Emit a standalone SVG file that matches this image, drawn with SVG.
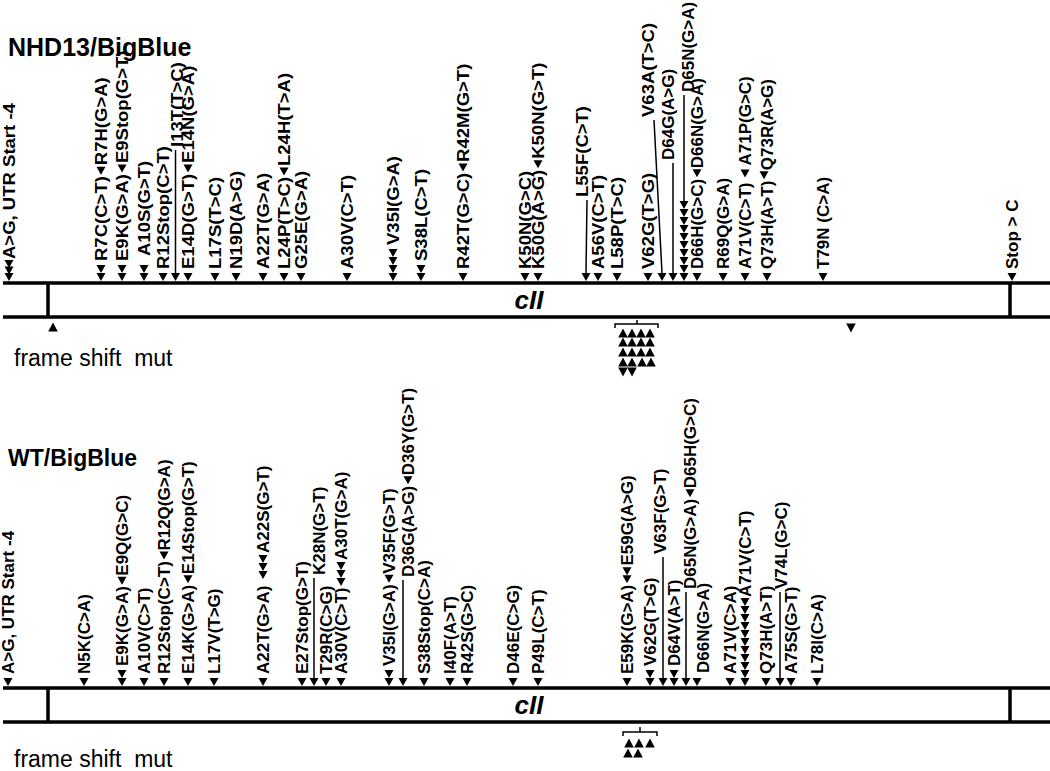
<svg xmlns="http://www.w3.org/2000/svg" width="1050" height="771" viewBox="0 0 1050 771">
<style>
.l,.L{font-family:"Liberation Sans",Arial,sans-serif;font-weight:bold;font-size:17px;fill:#000}
.h{font-family:"Liberation Sans",Arial,sans-serif;font-weight:bold;fill:#000}
.f{font-family:"Liberation Sans",Arial,sans-serif;font-size:23px;fill:#000}
.c{font-family:"Liberation Sans",Arial,sans-serif;font-weight:bold;font-style:italic;font-size:26px;text-anchor:middle;fill:#000}
.gl{stroke:#000;stroke-width:3.5;fill:none}
.ld{stroke:#000;stroke-width:1.5;fill:none}
</style>
<defs>
<path id="d" d="M-4.5,-8H4.5L0,0Z"/>
<path id="u" d="M0,-4.5L4.8,4.5H-4.8Z"/>
<path id="v" d="M-4.8,-4.5H4.8L0,4.5Z"/>
</defs>
<rect width="1050" height="771" fill="#fff"/>
<text class="h" x="8" y="56" font-size="25">NHD13/BigBlue</text>
<text class="h" x="8" y="466" font-size="23">WT/BigBlue</text>
<g id="gene-top">
<path class="gl" d="M3,283H1050M3,317H1050M48,283V317M1010,283V317"/>
<text class="c" x="529" y="309">cII</text>
</g>
<g id="gene-bottom">
<path class="gl" d="M3,688H1050M3,722H1050M48,688V722M1010,688V722"/>
<text class="c" x="529" y="714">cII</text>
</g>
<g id="frameshift-top">
<text class="f" x="14" y="366" xml:space="preserve">frame shift  mut</text>
<use href="#u" x="53" y="327"/><use href="#v" x="851" y="328"/>
<path class="ld" d="M615,328V324H658V328M637,324V320"/>
<use href="#u" x="623" y="333"/><use href="#u" x="632" y="333"/><use href="#u" x="641" y="333"/><use href="#u" x="650" y="333"/>
<use href="#u" x="623" y="342"/><use href="#u" x="632" y="342"/><use href="#u" x="641" y="342"/><use href="#u" x="650" y="342"/>
<use href="#u" x="623" y="352"/><use href="#u" x="632" y="352"/><use href="#u" x="641" y="352"/><use href="#u" x="650" y="352"/>
<use href="#u" x="623" y="362"/><use href="#u" x="632" y="362"/><use href="#u" x="642" y="362"/><use href="#u" x="651" y="362"/>
<use href="#v" x="623" y="372"/><use href="#v" x="632" y="372"/>
</g>
<g id="frameshift-bottom">
<text class="f" x="14" y="767" xml:space="preserve">frame shift  mut</text>
<path class="ld" d="M623,736V732H657V736M640,732V727"/>
<use href="#u" x="629" y="743"/><use href="#u" x="639" y="743"/><use href="#u" x="650" y="743"/>
<use href="#u" x="628" y="753"/><use href="#u" x="638" y="753"/>
</g>
<g id="connectors">
<path class="ld" d="M175.5,273V150M586,273L587,200M662,273L654,120M673,273V163M684,201V95M314,678V578M403,678V580M663,678V557M686,678V592M780,678V592"/>
</g>
<g id="top-labels">
<g id="t1"><use href="#d" x="9" y="281"/><use href="#d" x="9" y="274.5"/><use href="#d" x="9" y="268"/><text class="L" transform="translate(15,259) rotate(-90) scale(1.09,1)">A&gt;G, UTR Start -4</text></g>
<g id="t2"><use href="#d" x="101" y="281"/><use href="#d" x="101" y="273"/><text class="L" transform="translate(107,261) rotate(-90) scale(1.09,1)">R7C(C&gt;T)</text><use href="#d" x="101" y="174.7"/><text class="L" transform="translate(107,165.2) rotate(-90) scale(1.09,1)">R7H(G&gt;A)</text></g>
<g id="t3"><use href="#d" x="122" y="281"/><use href="#d" x="122" y="273"/><text class="L" transform="translate(128,261) rotate(-90) scale(1.09,1)">E9K(G&gt;A)</text><use href="#d" x="122" y="172.6"/><text class="L" transform="translate(128,163.1) rotate(-90) scale(1.09,1)">E9Stop(G&gt;T)</text></g>
<g id="t4"><use href="#d" x="144" y="281"/><use href="#d" x="144" y="273"/><text class="L" transform="translate(150,256) rotate(-90) scale(1.09,1)">A10S(G&gt;T)</text></g>
<g id="t5"><use href="#d" x="163" y="281"/><text class="L" transform="translate(169,269) rotate(-90) scale(1.09,1)">R12Stop(C&gt;T)</text></g>
<g id="t6"><use href="#d" x="175.5" y="281"/><text class="L" transform="translate(182.5,147) rotate(-90) scale(1.09,1)">I13T(T&gt;C)</text></g>
<g id="t7"><use href="#d" x="188" y="281"/><text class="L" transform="translate(194,269) rotate(-90) scale(1.09,1)">E14D(G&gt;T)</text><use href="#d" x="188" y="172.4"/><text class="L" transform="translate(194,162.9) rotate(-90) scale(1.09,1)">E14N(G&gt;A)</text></g>
<g id="t8"><use href="#d" x="215" y="281"/><text class="L" transform="translate(221,269) rotate(-90) scale(1.09,1)">L17S(T&gt;C)</text></g>
<g id="t9"><use href="#d" x="236" y="281"/><text class="L" transform="translate(242,269) rotate(-90) scale(1.09,1)">N19D(A&gt;G)</text></g>
<g id="t10"><use href="#d" x="263" y="281"/><text class="L" transform="translate(269,269) rotate(-90) scale(1.09,1)">A22T(G&gt;A)</text></g>
<g id="t11"><use href="#d" x="284" y="281"/><text class="L" transform="translate(290,269) rotate(-90) scale(1.09,1)">L24P(T&gt;C)</text><use href="#d" x="284" y="175.5"/><text class="L" transform="translate(290,166) rotate(-90) scale(1.09,1)">L24H(T&gt;A)</text></g>
<g id="t12"><use href="#d" x="301" y="281"/><text class="L" transform="translate(307,269) rotate(-90) scale(1.09,1)">G25E(G&gt;A)</text></g>
<g id="t13"><use href="#d" x="347" y="281"/><text class="L" transform="translate(353,269) rotate(-90) scale(1.09,1)">A30V(C&gt;T)</text></g>
<g id="t14"><use href="#d" x="393" y="281"/><use href="#d" x="393" y="273"/><use href="#d" x="393" y="265"/><use href="#d" x="393" y="257"/><text class="L" transform="translate(399,245) rotate(-90) scale(1.09,1)">V35I(G&gt;A)</text></g>
<g id="t15"><use href="#d" x="421" y="281"/><use href="#d" x="421" y="273"/><text class="L" transform="translate(427,261) rotate(-90) scale(1.09,1)">S38L(C&gt;T)</text></g>
<g id="t16"><use href="#d" x="463" y="281"/><text class="L" transform="translate(469,269) rotate(-90) scale(1.09,1)">R42T(G&gt;C)</text><use href="#d" x="463" y="171.4"/><text class="L" transform="translate(469,161.9) rotate(-90) scale(1.09,1)">R42M(G&gt;T)</text></g>
<g id="t17"><use href="#d" x="525" y="281"/><text class="L" transform="translate(531,269) rotate(-90) scale(1.09,1)">K50N(G&gt;C)</text></g>
<g id="t18"><use href="#d" x="538" y="281"/><text class="L" transform="translate(544,269) rotate(-90) scale(1.09,1)">K50G(A&gt;G)</text><use href="#d" x="538" y="168.3"/><text class="L" transform="translate(544,158.8) rotate(-90) scale(1.09,1)">K50N(G&gt;T)</text></g>
<g id="t19"><use href="#d" x="586" y="281"/><text class="L" transform="translate(588,197) rotate(-90) scale(1.09,1)">L55F(C&gt;T)</text></g>
<g id="t20"><use href="#d" x="598" y="281"/><text class="L" transform="translate(604,269) rotate(-90) scale(1.09,1)">A56V(C&gt;T)</text></g>
<g id="t21"><use href="#d" x="617" y="281"/><text class="L" transform="translate(623,269) rotate(-90) scale(1.09,1)">L58P(T&gt;C)</text></g>
<g id="t22"><use href="#d" x="648" y="281"/><text class="L" transform="translate(654,269) rotate(-90) scale(1.09,1)">V62G(T&gt;G)</text></g>
<g id="t23"><use href="#d" x="662" y="281"/><text class="L" transform="translate(654,117) rotate(-90) scale(1.09,1)">V63A(T&gt;C)</text></g>
<g id="t24"><use href="#d" x="673" y="281"/><text class="l" transform="translate(674,160) rotate(-90)">D64G(A&gt;G)</text></g>
<g id="t25"><use href="#d" x="684" y="281"/><use href="#d" x="684" y="273"/><use href="#d" x="684" y="265"/><use href="#d" x="684" y="257"/><use href="#d" x="684" y="249"/><use href="#d" x="684" y="241"/><use href="#d" x="684" y="233"/><use href="#d" x="684" y="225"/><use href="#d" x="684" y="217"/><use href="#d" x="684" y="209"/><text class="l" transform="translate(694,92) rotate(-90)">D65N(G&gt;A)</text></g>
<g id="t26"><use href="#d" x="697" y="281"/><text class="l" transform="translate(703,269) rotate(-90)">D66H(G&gt;C)</text><use href="#d" x="697" y="177.3"/><text class="l" transform="translate(703,168.3) rotate(-90)">D66N(G&gt;A)</text></g>
<g id="t27"><use href="#d" x="723" y="281"/><text class="l" transform="translate(729,269) rotate(-90)">R69Q(G&gt;A)</text></g>
<g id="t28"><use href="#d" x="745" y="281"/><text class="l" transform="translate(751,269) rotate(-90)">A71V(C&gt;T)</text><use href="#d" x="745" y="177.5"/><text class="l" transform="translate(751,165.5) rotate(-90)">A71P(G&gt;C)</text></g>
<g id="t29"><use href="#d" x="767" y="281"/><text class="l" transform="translate(773,269) rotate(-90)">Q73H(A&gt;T)</text><use href="#d" x="764" y="179.2"/><text class="l" transform="translate(773,170.2) rotate(-90)">Q73R(A&gt;G)</text></g>
<g id="t30"><use href="#d" x="823" y="281"/><text class="l" transform="translate(829,269) rotate(-90)">T79N (C&gt;A)</text></g>
<g id="t31"><use href="#d" x="1012" y="281"/><text class="l" transform="translate(1018,269) rotate(-90)">Stop &gt; C</text></g>
</g>
<g id="bottom-labels">
<g id="b1"><use href="#d" x="8" y="686"/><text class="l" transform="translate(14,674) rotate(-90)">A&gt;G, UTR Start -4</text></g>
<g id="b2"><use href="#d" x="84" y="686"/><text class="l" transform="translate(90,674) rotate(-90)">N5K(C&gt;A)</text></g>
<g id="b3"><use href="#d" x="122" y="686"/><use href="#d" x="122" y="678"/><text class="l" transform="translate(128,666) rotate(-90)">E9K(G&gt;A)</text><use href="#d" x="122" y="584.7"/><text class="l" transform="translate(128,575.7) rotate(-90)">E9Q(G&gt;C)</text></g>
<g id="b4"><use href="#d" x="144" y="686"/><text class="l" transform="translate(150,674) rotate(-90)">A10V(C&gt;T)</text></g>
<g id="b5"><use href="#d" x="164" y="686"/><text class="l" transform="translate(170,674) rotate(-90)">R12Stop(C&gt;T)</text><use href="#d" x="164" y="559.6"/><text class="l" transform="translate(170,550.6) rotate(-90)">R12Q(G&gt;A)</text></g>
<g id="b6"><use href="#d" x="188" y="686"/><text class="l" transform="translate(194,674) rotate(-90)">E14K(G&gt;A)</text><use href="#d" x="188" y="583.2"/><text class="l" transform="translate(194,574.2) rotate(-90)">E14Stop(G&gt;T)</text></g>
<g id="b7"><use href="#d" x="214" y="686"/><text class="l" transform="translate(220,674) rotate(-90)">L17V(T&gt;G)</text></g>
<g id="b8"><use href="#d" x="263" y="686"/><text class="l" transform="translate(269,674) rotate(-90)">A22T(G&gt;A)</text><use href="#d" x="263" y="579"/><use href="#d" x="263" y="571"/><use href="#d" x="263" y="563"/><text class="l" transform="translate(269,553) rotate(-90)">A22S(G&gt;T)</text></g>
<g id="b9"><use href="#d" x="302" y="686"/><text class="l" transform="translate(308,674) rotate(-90)">E27Stop(G&gt;T)</text></g>
<g id="b10"><use href="#d" x="314" y="686"/><text class="l" transform="translate(325,575) rotate(-90)">K28N(G&gt;T)</text></g>
<g id="b11"><use href="#d" x="326" y="686"/><text class="l" transform="translate(332,674) rotate(-90)">T29R(C&gt;G)</text></g>
<g id="b12"><use href="#d" x="341" y="686"/><text class="l" transform="translate(347,674) rotate(-90)">A30V(C&gt;T)</text><use href="#d" x="341" y="586"/><use href="#d" x="341" y="578"/><use href="#d" x="341" y="570"/><text class="l" transform="translate(347,560) rotate(-90)">A30T(G&gt;A)</text></g>
<g id="b13"><use href="#d" x="389" y="686"/><use href="#d" x="389" y="678"/><text class="l" transform="translate(395,666) rotate(-90)">V35I(G&gt;A)</text><use href="#d" x="389" y="582.8"/><text class="l" transform="translate(395,573.8) rotate(-90)">V35F(G&gt;T)</text></g>
<g id="b14"><use href="#d" x="403" y="686"/><text class="l" transform="translate(414,577) rotate(-90)">D36G(A&gt;G)</text><use href="#d" x="408" y="484.3"/><text class="l" transform="translate(414,475.3) rotate(-90)">D36Y(G&gt;T)</text></g>
<g id="b15"><use href="#d" x="424" y="686"/><text class="l" transform="translate(430,674) rotate(-90)">S38Stop(C&gt;A)</text></g>
<g id="b16"><use href="#d" x="450" y="686"/><text class="l" transform="translate(456,674) rotate(-90)">I40F(A&gt;T)</text></g>
<g id="b17"><use href="#d" x="467" y="686"/><text class="l" transform="translate(473,674) rotate(-90)">R42S(G&gt;C)</text></g>
<g id="b18"><use href="#d" x="513" y="686"/><text class="l" transform="translate(519,674) rotate(-90)">D46E(C&gt;G)</text></g>
<g id="b19"><use href="#d" x="538" y="686"/><text class="l" transform="translate(544,674) rotate(-90)">P49L(C&gt;T)</text></g>
<g id="b20"><use href="#d" x="627" y="686"/><text class="l" transform="translate(633,674) rotate(-90)">E59K(G&gt;A)</text><use href="#d" x="627" y="583.2"/><use href="#d" x="627" y="575.2"/><text class="l" transform="translate(633,565.5) rotate(-90)">E59G(A&gt;G)</text></g>
<g id="b21"><use href="#d" x="650" y="686"/><use href="#d" x="650" y="678"/><text class="l" transform="translate(656,666) rotate(-90)">V62G(T&gt;G)</text></g>
<g id="b22"><use href="#d" x="663" y="686"/><text class="l" transform="translate(666,554) rotate(-90)">V63F(G&gt;T)</text></g>
<g id="b23"><use href="#d" x="674" y="686"/><use href="#d" x="674" y="678"/><text class="l" transform="translate(680,666) rotate(-90)">D64V(A&gt;T)</text></g>
<g id="b24"><use href="#d" x="686" y="686"/><text class="l" transform="translate(696,589) rotate(-90)">D65N(G&gt;A)</text><use href="#d" x="690" y="497.3"/><text class="l" transform="translate(696,488.3) rotate(-90)">D65H(G&gt;C)</text></g>
<g id="b25"><use href="#d" x="697" y="686"/><text class="l" transform="translate(709,673) rotate(-90)">D66N(G&gt;A)</text></g>
<g id="b26"><use href="#d" x="730" y="686"/><text class="l" transform="translate(736,674) rotate(-90)">A71V(C&gt;A)</text></g>
<g id="b27"><use href="#d" x="745" y="686"/><use href="#d" x="745" y="678"/><use href="#d" x="745" y="670"/><use href="#d" x="745" y="662"/><use href="#d" x="745" y="654"/><use href="#d" x="745" y="646"/><use href="#d" x="745" y="638"/><use href="#d" x="745" y="630"/><use href="#d" x="745" y="622"/><use href="#d" x="745" y="614"/><use href="#d" x="745" y="606"/><text class="l" transform="translate(751,597) rotate(-90)">A71V(C&gt;T)</text></g>
<g id="b28"><use href="#d" x="766" y="686"/><text class="l" transform="translate(772,674) rotate(-90)">Q73H(A&gt;T)</text></g>
<g id="b29"><use href="#d" x="780" y="686"/><text class="l" transform="translate(787,589) rotate(-90)">V74L(G&gt;C)</text></g>
<g id="b30"><use href="#d" x="791" y="686"/><text class="l" transform="translate(797,674) rotate(-90)">A75S(G&gt;T)</text></g>
<g id="b31"><use href="#d" x="817" y="686"/><text class="l" transform="translate(823,674) rotate(-90)">L78I(C&gt;A)</text></g>
</g>
</svg>
